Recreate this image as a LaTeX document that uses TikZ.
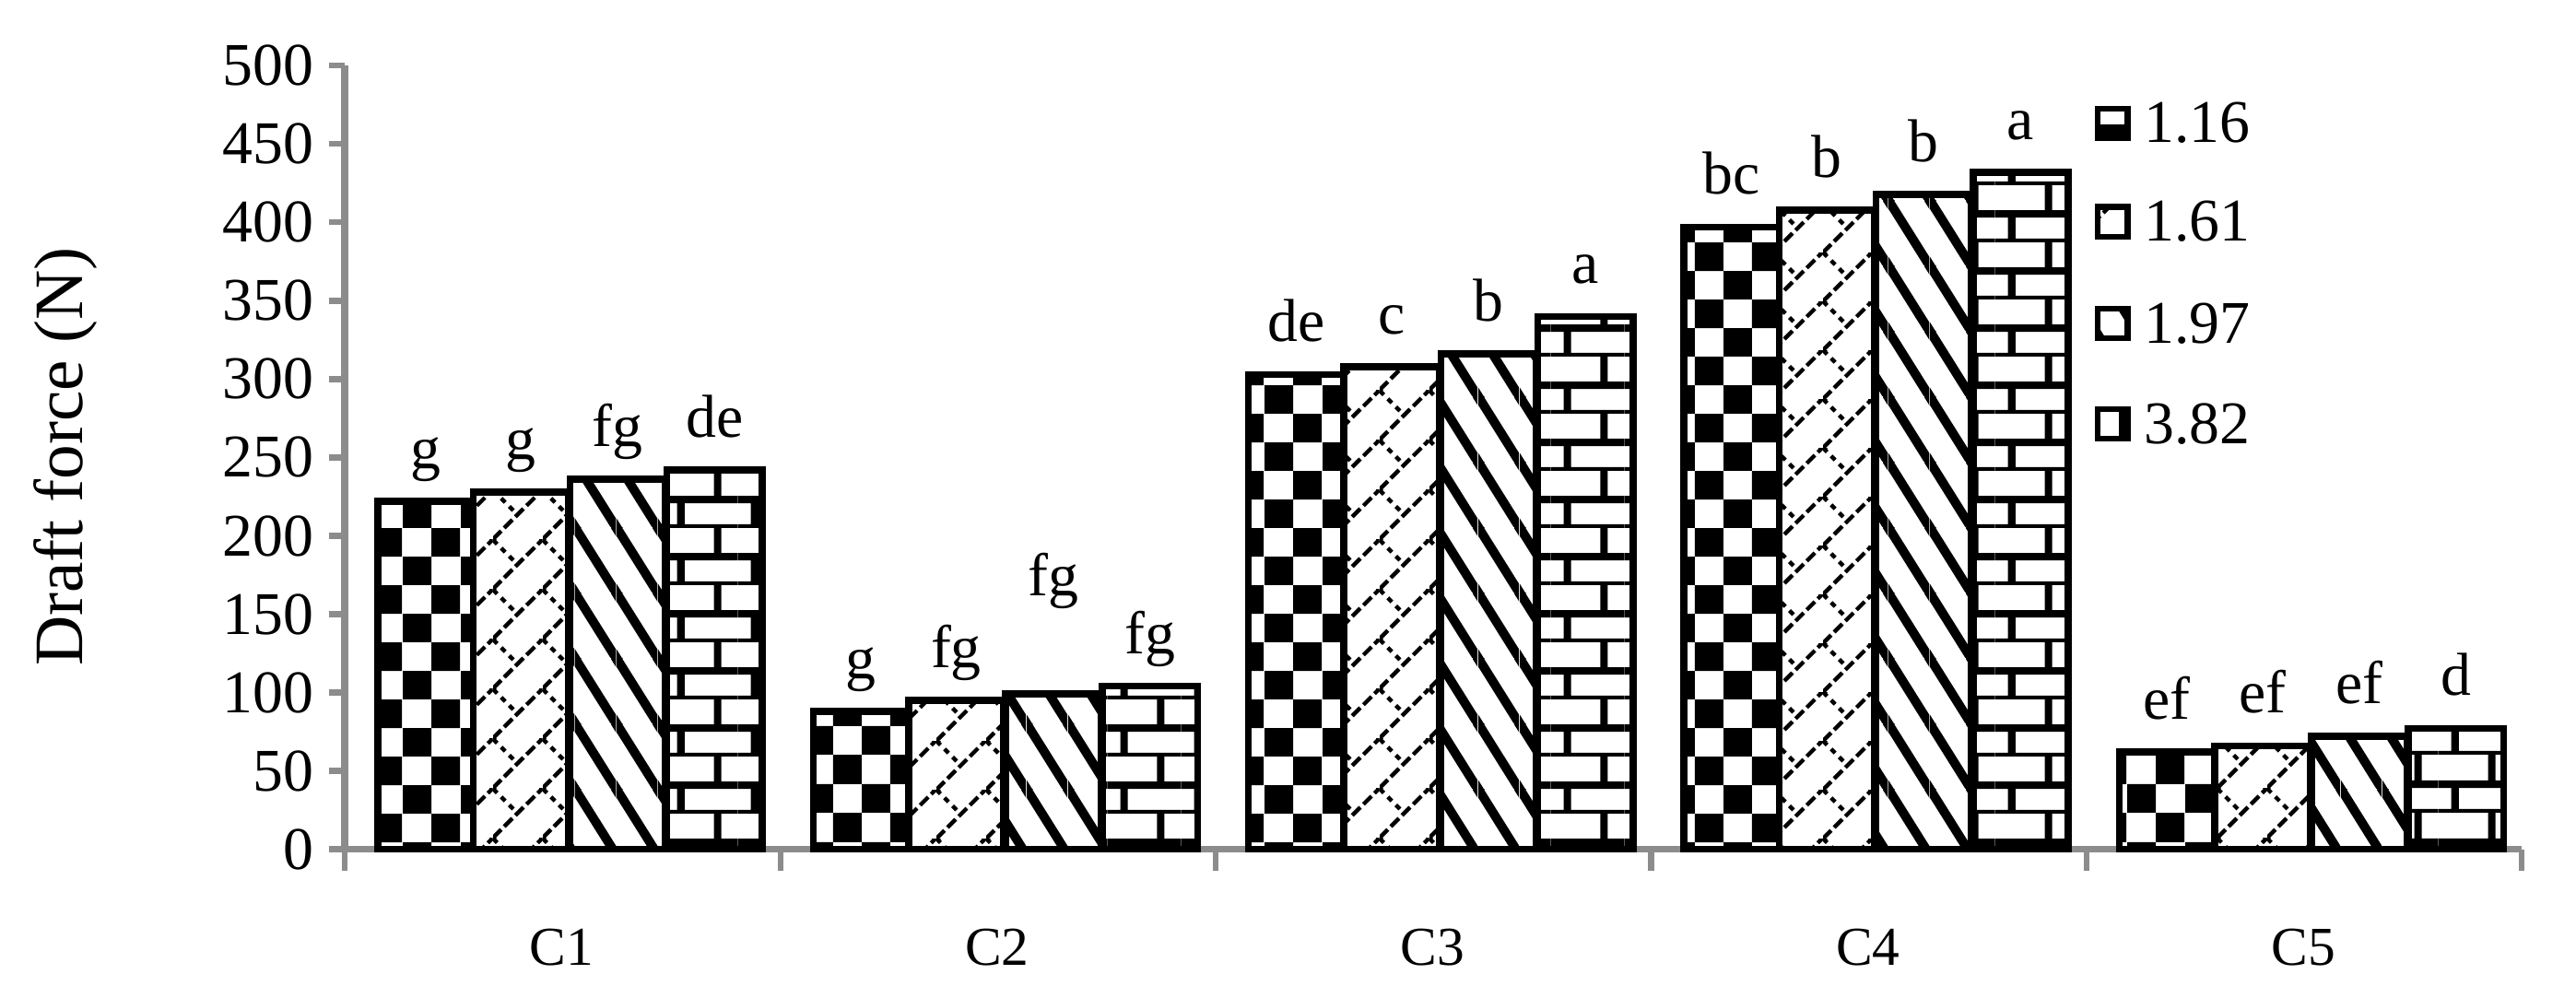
\documentclass[tikz,border=0pt]{standalone}
\usepackage{fontspec}
\setmainfont{Liberation Serif}
\usetikzlibrary{patterns.meta}
\tikzdeclarepattern{name=chk, bottom left={(0,0)}, top right={(0.7cm,0.7cm)}, tile size={(0.7cm,0.7cm)},
 code={\fill (0,0) rectangle (0.35cm,0.35cm); \fill (0.35cm,0.35cm) rectangle (0.7cm,0.7cm);}}
\tikzdeclarepattern{name=zig, bottom left={(0,0)}, top right={(0.6cm,0.6cm)}, tile size={(0.6cm,0.6cm)},
 code={\draw[line width=1.4pt,dash pattern=on 4pt off 1.5pt] (0,0)--(0.6cm,0.6cm); \draw[line width=1.4pt,dash pattern=on 2pt off 2pt] (0,0.6cm)--(0.3cm,0.3cm);}}
\tikzdeclarepattern{name=thk, bottom left={(0,0)}, top right={(0.5cm,0.8cm)}, tile size={(0.5cm,0.8cm)},
 code={\clip (0,0) rectangle (0.5cm,0.8cm); \foreach \k in {-1,0,1,2}{\draw[line width=3.2pt] (-0.05cm,{0.8cm*\k+0.88cm})--(0.55cm,{0.8cm*\k-0.08cm});}}}
\tikzdeclarepattern{name=brk, bottom left={(0,0)}, top right={(0.9cm,0.7cm)}, tile size={(0.9cm,0.7cm)},
 code={\draw[line width=2.6pt] (0,0)--(0.9cm,0) (0,0.35cm)--(0.9cm,0.35cm) (0.2cm,0)--(0.2cm,0.35cm) (0.65cm,0.35cm)--(0.65cm,0.7cm);}}
\tikzset{barst/.style={draw=black,line width=2.4pt},
 axis/.style={draw=gray!90,line width=2.5pt},
 tick/.style={font=\fontsize{21}{24}\selectfont},
 lab/.style={font=\fontsize{21}{24}\selectfont,anchor=base}}
\newcommand\mybar[5]{%
 \draw[barst,pattern=#3] (#1,83) rectangle ({#1+58},{83+#2*0.954});
 \node[lab] at ({#1+29},{83+#2*0.954+20+#5}) {#4};}
\begin{document}
\begin{tikzpicture}[x=0.02cm,y=0.02cm]
\useasboundingbox (0,0) rectangle (1568,600);
\draw[axis] (210,83)--(210,560);
\foreach \v in {0,50,...,500}{
 \draw[axis,line width=2pt] (200,{83+\v*0.954})--(210,{83+\v*0.954});
 \node[tick,anchor=east] at (197,{83+\v*0.954}) {\v};}
\draw[axis] (210,83)--(1535,83);
\foreach \x in {210,475,740,1005,1270,1535}{\draw[axis,line width=2pt] (\x,83)--(\x,70);}
\node[font=\fontsize{24}{28}\selectfont,rotate=90] (ylab) at (40,322) {Draft force (N)};
\foreach \n/\x in {C1/342,C2/607,C3/872,C4/1137,C5/1402}{\node[font=\fontsize{19}{22}\selectfont] (\n) at (\x,23) {\n};}
\mybar{230}{222}{chk}{g}{0}\mybar{288}{228}{zig}{g}{0}\mybar{347}{236}{thk}{fg}{0}\mybar{406}{242}{brk}{de}{0}
\mybar{495}{88}{chk}{g}{0}\mybar{553}{95}{zig}{fg}{0}\mybar{612}{99}{thk}{fg}{40}\mybar{671}{104}{brk}{fg}{0}
\mybar{760}{303}{chk}{de}{0}\mybar{818}{308}{zig}{c}{0}\mybar{877}{316}{thk}{b}{0}\mybar{936}{340}{brk}{a}{0}
\mybar{1025}{397}{chk}{bc}{0}\mybar{1083}{408}{zig}{b}{0}\mybar{1142}{418}{thk}{b}{0}\mybar{1201}{432}{brk}{a}{0}
\mybar{1290}{62}{chk}{ef}{0}\mybar{1348}{66}{zig}{ef}{0}\mybar{1407}{72}{thk}{ef}{0}\mybar{1466}{77}{brk}{d}{0}
\foreach \p/\t/\y in {chk/1.16/525,zig/1.61/465,thk/1.97/403,brk/3.82/342}{
 \draw[barst,pattern=\p,line width=2pt] (1277,\y-9) rectangle (1295,\y+9);
 \node[tick,anchor=west] at (1299,\y) {\t};}
\end{tikzpicture}
\end{document}
